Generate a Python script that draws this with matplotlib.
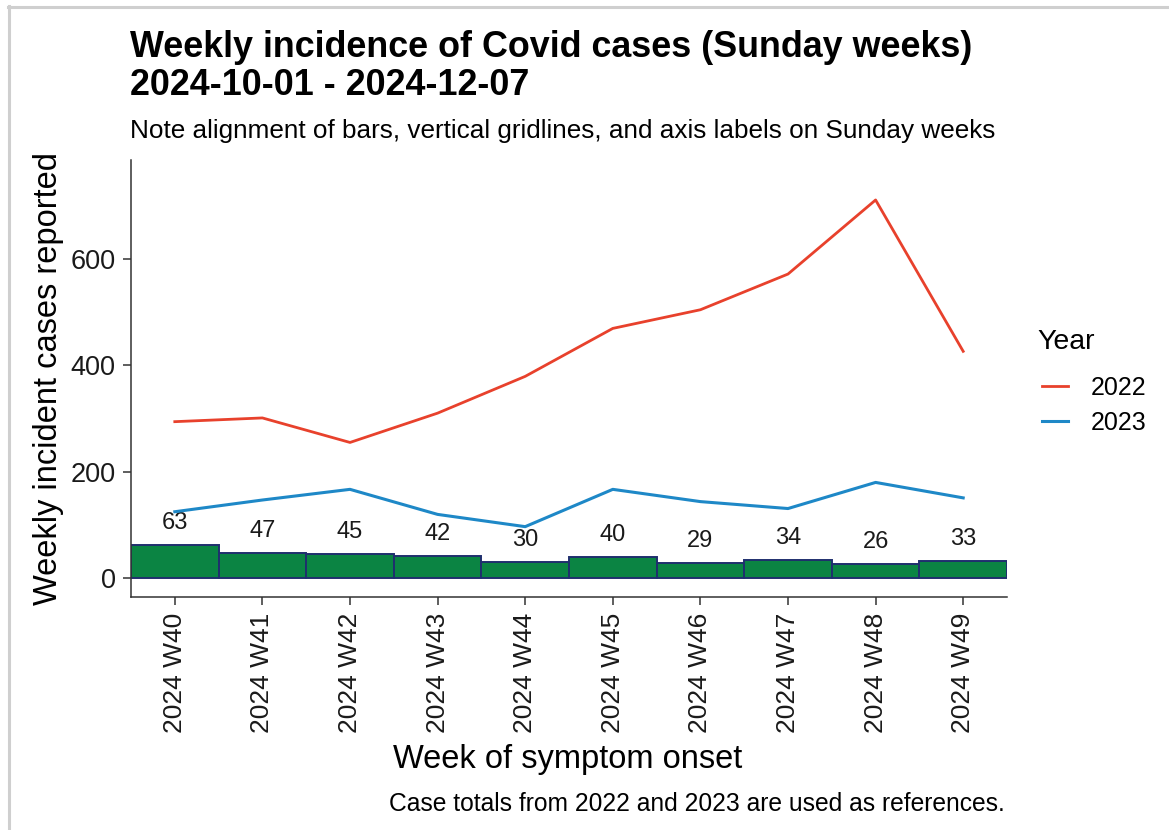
import matplotlib
matplotlib.use("Agg")
import matplotlib.pyplot as plt
from matplotlib.lines import Line2D
import numpy as np

plt.rcParams['font.family'] = ['Liberation Sans', 'DejaVu Sans']

weeks = ["2024 W40", "2024 W41", "2024 W42", "2024 W43", "2024 W44",
         "2024 W45", "2024 W46", "2024 W47", "2024 W48", "2024 W49"]
cases_2024 = [63, 47, 45, 42, 30, 40, 29, 34, 26, 33]
ref_2022 = [294, 301, 255, 310, 379, 469, 504, 571, 710, 426]
ref_2023 = [125, 147, 167, 120, 97, 167, 144, 131, 180, 151]
years = ["2022", "2023"]

W, H = 1169, 830
fig = plt.figure(figsize=(W / 100, H / 100), dpi=100)

# light gray frame (top and left)
fig.add_artist(Line2D([8 / W, 1], [1 - 7 / H, 1 - 7 / H], transform=fig.transFigure,
                      color="#cfcfcf", lw=2.2))
fig.add_artist(Line2D([9 / W, 9 / W], [0, 1 - 6 / H], transform=fig.transFigure,
                      color="#cfcfcf", lw=2.2))

ax = fig.add_axes([131 / W, (H - 597) / H, 876 / W, 437 / H])
x = np.arange(len(weeks))

ax.bar(x, cases_2024, width=1.0, color="#0B8443", edgecolor="#1F2F6E", linewidth=1.4, zorder=2)
for xi, v in zip(x, cases_2024):
    ax.annotate(str(v), (xi, v), xytext=(0, 8), textcoords="offset points",
                ha="center", va="bottom", fontsize=17, color="#1a1a1a")

l1, = ax.plot(x, ref_2022, color="#E8412C", lw=2.0, zorder=3)
l2, = ax.plot(x, ref_2023, color="#1E88C7", lw=2.2, zorder=3)

ax.set_xlim(-0.5, len(weeks) - 0.5)
ax.set_ylim(-35, 785)
ax.set_yticks([0, 200, 400, 600])
ax.set_xticks(x)
ax.set_xticklabels(weeks, rotation=90, fontsize=19, color="#1a1a1a")
ax.tick_params(axis="y", labelsize=19.5, labelcolor="#1a1a1a")
ax.tick_params(axis="both", length=6, width=1.1, color="#333333", pad=5)

for s in ["top", "right"]:
    ax.spines[s].set_visible(False)
for s in ["left", "bottom"]:
    ax.spines[s].set_color("#333333")
    ax.spines[s].set_linewidth(1.1)

ax.set_ylabel("Weekly incident cases reported", fontsize=23.5, color="#000000")
ax.yaxis.set_label_coords(-0.0765, 0.5)
ax.set_xlabel("Week of symptom onset", fontsize=23.5, color="#000000")
ax.xaxis.set_label_coords(0.498, -0.336)

fig.text(130 / W, 1 - 57 / H, "Weekly incidence of Covid cases (Sunday weeks)",
         fontsize=25.8, fontweight="bold", ha="left", va="baseline")
fig.text(130 / W, 1 - 95 / H, "2024-10-01 - 2024-12-07",
         fontsize=25.8, fontweight="bold", ha="left", va="baseline")
fig.text(130 / W, 1 - 138 / H,
         "Note alignment of bars, vertical gridlines, and axis labels on Sunday weeks",
         fontsize=18.8, ha="left", va="baseline")
fig.text(1005 / W, 1 - 811 / H, "Case totals from 2022 and 2023 are used as references.",
         fontsize=17.75, ha="right", va="baseline")

# legend
fig.text(1037 / W, 1 - 349 / H, "Year", fontsize=20.5, ha="left", va="baseline")
leg = ax.legend([l1, l2], years, loc="upper left",
                bbox_to_anchor=(1042 / W, 1 - 376 / H), bbox_transform=fig.transFigure,
                frameon=False, fontsize=18, borderpad=0, borderaxespad=0,
                handlelength=1.05, handletextpad=0.88, labelspacing=0.45)

fig.savefig("out.png", dpi=100)
